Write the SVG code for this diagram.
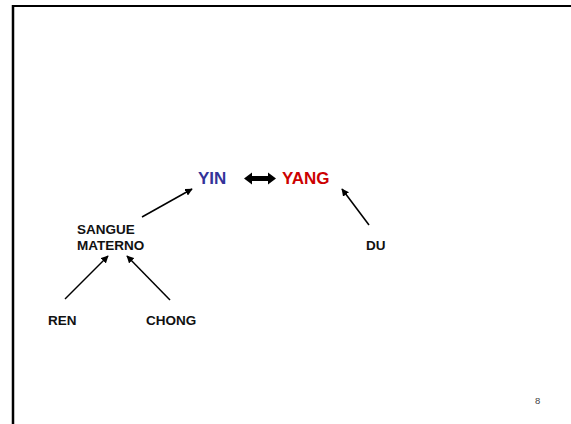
<svg xmlns="http://www.w3.org/2000/svg" width="571" height="424" viewBox="0 0 571 424">
<style>
text{font-family:"Liberation Sans",Arial,sans-serif;font-weight:bold}
.lbl{font-size:13.5px;fill:#111}
.big{font-size:17px}
.ln{stroke:#000;stroke-width:1.5;fill:none;marker-end:url(#ah)}
</style>
<defs>
<marker id="ah" viewBox="0 0 10 10" refX="9" refY="5" markerWidth="5" markerHeight="5" orient="auto" markerUnits="strokeWidth">
<path d="M0,0 L10,5 L0,10 z" fill="#000"/>
</marker>
</defs>
<rect width="571" height="424" fill="#fff"/>
<g id="frame">
<line x1="12" y1="6" x2="571" y2="6" stroke="#000" stroke-width="2"/>
<line x1="13" y1="5" x2="13" y2="424" stroke="#000" stroke-width="2.5"/>
</g>
<g id="yin"><text class="big" x="198" y="184" fill="#333399">YIN</text></g>
<g id="yang"><text class="big" x="282" y="184" fill="#CC0000">YANG</text></g>
<g id="sangue"><text class="lbl" x="77" y="234">SANGUE</text><text class="lbl" x="77" y="250">MATERNO</text></g>
<g id="ren"><text class="lbl" x="48" y="325">REN</text></g>
<g id="chong"><text class="lbl" x="146" y="325">CHONG</text></g>
<g id="du"><text class="lbl" x="366" y="250">DU</text></g>
<g id="page"><text x="535" y="404" style="font-size:9.5px;font-weight:normal;fill:#444">8</text></g>
<g id="connectors">
<path d="M244,178.5 L252,172.5 L252,176 L268,176 L268,172.5 L276,178.5 L268,184.5 L268,181 L252,181 L252,184.5 Z" fill="#000"/>
<line class="ln" x1="142" y1="217" x2="192" y2="189"/>
<line class="ln" x1="65" y1="299" x2="108" y2="256"/>
<line class="ln" x1="170" y1="300" x2="127" y2="256"/>
<line class="ln" x1="369" y1="225" x2="342" y2="189"/>
</g>
</svg>
